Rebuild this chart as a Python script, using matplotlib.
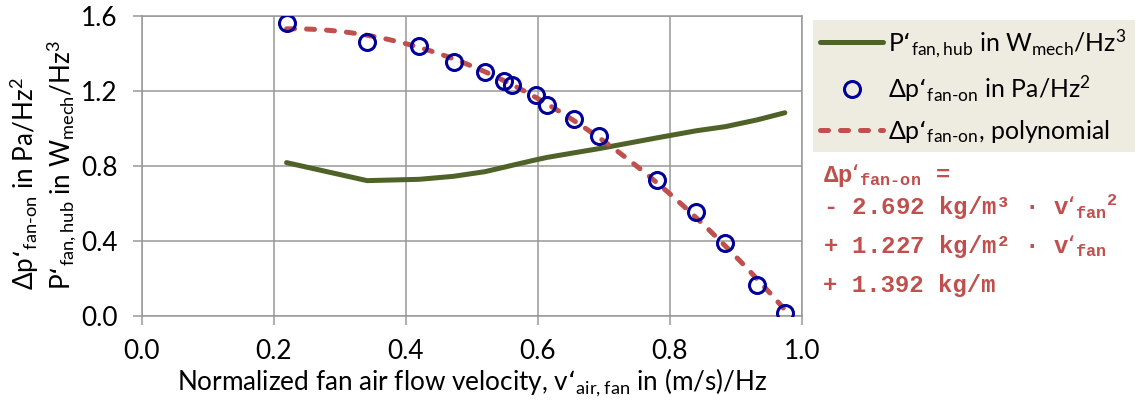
import numpy as np
import matplotlib.pyplot as plt

plt.rcParams['font.family'] = ['Lato', 'DejaVu Sans']
plt.rcParams['mathtext.default'] = 'regular'

# measured points, normalized fan air flow velocity
v_air = [0.219, 0.341, 0.420, 0.472, 0.520, 0.548, 0.560, 0.597, 0.614,
         0.654, 0.693, 0.780, 0.840, 0.884, 0.932, 0.974]
dp_fan_on = [1.564, 1.463, 1.442, 1.356, 1.300, 1.253, 1.232, 1.179, 1.125,
             1.051, 0.960, 0.725, 0.556, 0.388, 0.165, 0.014]
p_fan_hub = [0.818, 0.722, 0.729, 0.745, 0.770, 0.793, 0.803, 0.833, 0.846,
             0.870, 0.893, 0.950, 0.988, 1.010, 1.046, 1.084]
# polynomial from the chart: a*v^2 + b*v + c
poly_coef = [-2.692, 1.227, 1.392]

green = '#4F6228'
blue = '#000099'
red = '#C0504D'
grey = '#989898'
fs = 18.8

fig = plt.figure(figsize=(11.38, 4.08), dpi=100)
ax = fig.add_axes([142/1138, 1-316/408, 660/1138, 300/408])

ax.plot(v_air, p_fan_hub, color=green, lw=3.6, solid_capstyle='round',
        solid_joinstyle='round', label="P‘$_{fan,hub}$ in W$_{mech}$/Hz$^3$", zorder=3)
ax.plot(v_air, dp_fan_on, ls='none', marker='o', ms=11.5, mfc='none', mec=blue,
        mew=2.2, label="Δp‘$_{fan‐on}$ in Pa/Hz$^2$", zorder=4)
vv = np.linspace(v_air[0], v_air[-1], 200)
ax.plot(vv, np.polyval(poly_coef, vv), color=red, lw=3.6, dashes=(1.6, 2.4),
        dash_capstyle='round', label="Δp‘$_{fan‐on}$, polynomial", zorder=3)

ax.set_xlim(0, 1)
ax.set_ylim(0, 1.6)
ax.set_xticks(np.arange(0, 1.01, 0.2))
ax.set_yticks(np.arange(0, 1.61, 0.4))
ax.set_xticklabels(['%.1f' % t for t in np.arange(0, 1.01, 0.2)])
ax.set_yticklabels(['%.1f' % t for t in np.arange(0, 1.61, 0.4)])
ax.grid(True, color=grey, lw=1.1)
ax.set_axisbelow(True)
for s in ax.spines.values():
    s.set_color(grey)
    s.set_linewidth(1.1)
ax.tick_params(direction='out', length=6.5, width=1.1, color=grey,
               labelsize=fs)
ax.tick_params(axis='x', pad=10)
ax.tick_params(axis='y', pad=11)

ax.set_xlabel("Normalized fan air flow velocity, v‘$_{air,fan}$ in (m/s)/Hz",
              fontsize=fs, labelpad=2)

fig.text(25/1138, 1-290/408, "Δp‘$_{fan‐on}$ in Pa/Hz$^2$", rotation=90,
         fontsize=fs, ha='center', va='bottom')
fig.text(62/1138, 1-290/408, "P‘$_{fan,hub}$ in W$_{mech}$/Hz$^3$", rotation=90,
         fontsize=fs, ha='center', va='bottom')

leg = fig.legend(loc='upper left', bbox_to_anchor=(813/1138, 1-148/408, 322/1138, 128/408),
                 mode='expand', facecolor='#EEECE1', edgecolor='none', fancybox=False,
                 framealpha=1, fontsize=17.9, handlelength=2.5, labelspacing=0.55,
                 borderpad=0.3, handletextpad=0.2, borderaxespad=0)

eq_lines = ["Δp‘$_{fan‐on}$ =",
            "- 2.692 kg/m³ · v‘$_{fan}{}^{2}$",
            "+ 1.227 kg/m² · v‘$_{fan}$",
            "+ 1.392 kg/m"]
eq_base = [182, 215, 253, 292]
for line, yb in zip(eq_lines, eq_base):
    fig.text(823/1138, 1-yb/408, line, family='Liberation Mono', weight='bold',
             fontsize=17.3, color=red, va='baseline', ha='left')

fig.savefig('out.png', dpi=100)
